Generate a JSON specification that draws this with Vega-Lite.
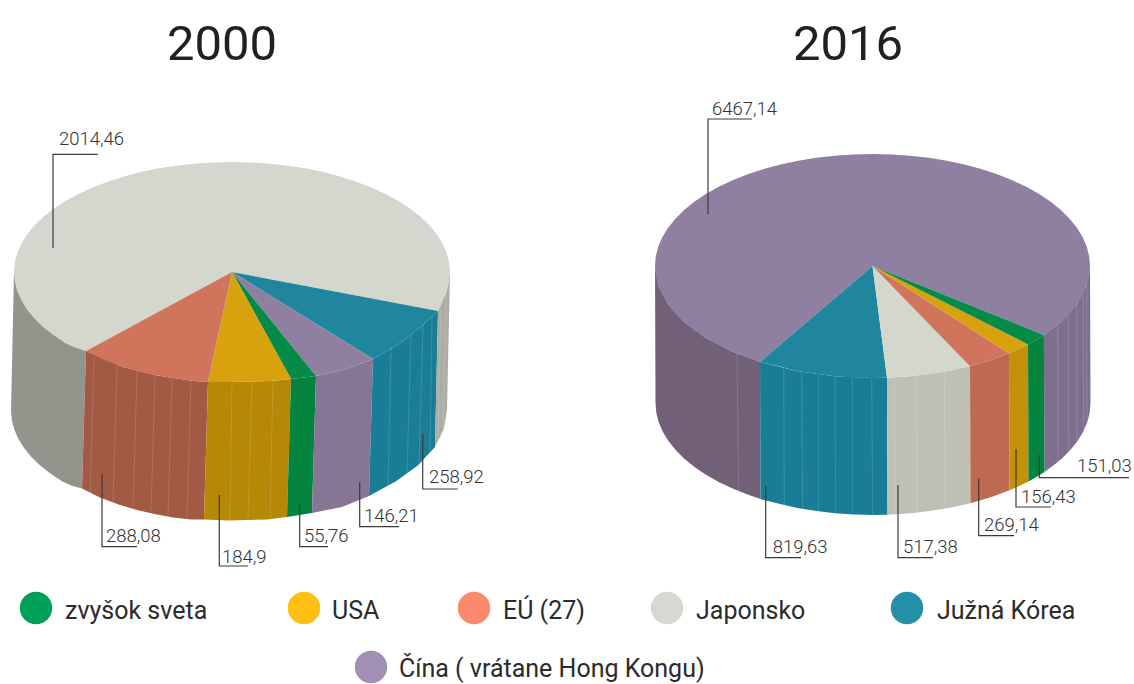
{"$schema":"https://vega.github.io/schema/vega-lite/v6.json","width":1134,"height":684,"autosize":{"type":"none"},"padding":0,"background":"#ffffff","config":{"view":{"stroke":null}},
"encoding":{"x":{"field":"x","type":"quantitative","axis":null,"scale":{"domain":[0,1134],"nice":false,"zero":false}},"y":{"field":"y","type":"quantitative","axis":null,"scale":{"domain":[684,0],"nice":false,"zero":false}}},
"layer":[
{"data":{"values":[
{"p":"a1","part":"Japonsko bok tmavý","i":0,"x":86,"y":351},{"p":"a1","part":"Japonsko bok tmavý","i":1,"x":65,"y":342.7},{"p":"a1","part":"Japonsko bok tmavý","i":2,"x":43.2,"y":327},{"p":"a1","part":"Japonsko bok tmavý","i":3,"x":27.1,"y":309.6},{"p":"a1","part":"Japonsko bok tmavý","i":4,"x":17.3,"y":291.1},{"p":"a1","part":"Japonsko bok tmavý","i":5,"x":14,"y":272},{"p":"a1","part":"Japonsko bok tmavý","i":6,"x":11,"y":410.5},{"p":"a1","part":"Japonsko bok tmavý","i":6.5,"x":11.8,"y":420},{"p":"a1","part":"Japonsko bok tmavý","i":7,"x":14.3,"y":429.6},{"p":"a1","part":"Japonsko bok tmavý","i":7.5,"x":18.4,"y":439},{"p":"a1","part":"Japonsko bok tmavý","i":8,"x":24.1,"y":448.1},{"p":"a1","part":"Japonsko bok tmavý","i":8.5,"x":31.4,"y":457},{"p":"a1","part":"Japonsko bok tmavý","i":9,"x":40.2,"y":465.5},{"p":"a1","part":"Japonsko bok tmavý","i":9.5,"x":50.4,"y":473.6},{"p":"a1","part":"Japonsko bok tmavý","i":10,"x":62,"y":481.2},{"p":"a1","part":"Japonsko bok tmavý","i":10.5,"x":71,"y":485.5},{"p":"a1","part":"Japonsko bok tmavý","i":11,"x":82,"y":488.5},
{"p":"a2","part":"EÚ bok 2000","i":0,"x":86,"y":351},{"p":"a2","part":"EÚ bok 2000","i":1,"x":123,"y":367},{"p":"a2","part":"EÚ bok 2000","i":2,"x":157.4,"y":375.4},{"p":"a2","part":"EÚ bok 2000","i":3,"x":194,"y":381},{"p":"a2","part":"EÚ bok 2000","i":4,"x":208,"y":382},{"p":"a2","part":"EÚ bok 2000","i":5,"x":204,"y":519.5},{"p":"a2","part":"EÚ bok 2000","i":6,"x":191,"y":519.5},{"p":"a2","part":"EÚ bok 2000","i":6.5,"x":173,"y":517.4},{"p":"a2","part":"EÚ bok 2000","i":7,"x":154.4,"y":514},{"p":"a2","part":"EÚ bok 2000","i":7.5,"x":137,"y":510},{"p":"a2","part":"EÚ bok 2000","i":8,"x":120,"y":505},{"p":"a2","part":"EÚ bok 2000","i":8.5,"x":100,"y":497.5},{"p":"a2","part":"EÚ bok 2000","i":9,"x":82,"y":488.5},
{"p":"a3","part":"USA bok 2000","i":0,"x":208,"y":382},{"p":"a3","part":"USA bok 2000","i":1,"x":232,"y":382},{"p":"a3","part":"USA bok 2000","i":2,"x":270,"y":381},{"p":"a3","part":"USA bok 2000","i":3,"x":291,"y":379},{"p":"a3","part":"USA bok 2000","i":4,"x":287,"y":517},{"p":"a3","part":"USA bok 2000","i":5,"x":267,"y":519.5},{"p":"a3","part":"USA bok 2000","i":6,"x":229,"y":520.5},{"p":"a3","part":"USA bok 2000","i":7,"x":204,"y":519.5},
{"p":"a4","part":"zvyšok bok","i":0,"x":291,"y":379},{"p":"a4","part":"zvyšok bok","i":1,"x":316,"y":376},{"p":"a4","part":"zvyšok bok","i":2,"x":312,"y":513},{"p":"a4","part":"zvyšok bok","i":3,"x":287,"y":517},
{"p":"a5","part":"Čína bok 2000","i":0,"x":316,"y":376},{"p":"a5","part":"Čína bok 2000","i":1,"x":345,"y":369.5},{"p":"a5","part":"Čína bok 2000","i":2,"x":373,"y":359},{"p":"a5","part":"Čína bok 2000","i":3,"x":369,"y":496},{"p":"a5","part":"Čína bok 2000","i":4,"x":342,"y":507},{"p":"a5","part":"Čína bok 2000","i":5,"x":312,"y":513},
{"p":"a6","part":"Kórea bok","i":0,"x":373,"y":359},{"p":"a6","part":"Kórea bok","i":1,"x":399,"y":344},{"p":"a6","part":"Kórea bok","i":2,"x":420.8,"y":327},{"p":"a6","part":"Kórea bok","i":3,"x":438,"y":311},{"p":"a6","part":"Kórea bok","i":4,"x":435,"y":447},{"p":"a6","part":"Kórea bok","i":5,"x":417.8,"y":465.5},{"p":"a6","part":"Kórea bok","i":6,"x":396,"y":481.2},{"p":"a6","part":"Kórea bok","i":7,"x":369,"y":496},
{"p":"a7","part":"Japonsko bok svetlý","i":0,"x":438,"y":311},{"p":"a7","part":"Japonsko bok svetlý","i":1,"x":446.7,"y":291.1},{"p":"a7","part":"Japonsko bok svetlý","i":2,"x":450,"y":272},{"p":"a7","part":"Japonsko bok svetlý","i":3,"x":447,"y":410.5},{"p":"a7","part":"Japonsko bok svetlý","i":4,"x":443.7,"y":429.6},{"p":"a7","part":"Japonsko bok svetlý","i":5,"x":435,"y":447},
{"p":"a8","part":"Japonsko vrch","i":0,"x":232,"y":272},{"p":"a8","part":"Japonsko vrch","i":1,"x":438,"y":311},{"p":"a8","part":"Japonsko vrch","i":1.5,"x":442.6,"y":300.5},{"p":"a8","part":"Japonsko vrch","i":2,"x":446.7,"y":291.1},{"p":"a8","part":"Japonsko vrch","i":2.5,"x":449.2,"y":281.6},{"p":"a8","part":"Japonsko vrch","i":3,"x":450,"y":272},{"p":"a8","part":"Japonsko vrch","i":3.5,"x":449.2,"y":262.4},{"p":"a8","part":"Japonsko vrch","i":4,"x":446.7,"y":252.9},{"p":"a8","part":"Japonsko vrch","i":4.5,"x":442.6,"y":243.5},{"p":"a8","part":"Japonsko vrch","i":5,"x":436.9,"y":234.4},{"p":"a8","part":"Japonsko vrch","i":5.5,"x":429.6,"y":225.5},{"p":"a8","part":"Japonsko vrch","i":6,"x":420.8,"y":217},{"p":"a8","part":"Japonsko vrch","i":6.5,"x":410.6,"y":208.9},{"p":"a8","part":"Japonsko vrch","i":7,"x":399,"y":201.3},{"p":"a8","part":"Japonsko vrch","i":7.5,"x":386.1,"y":194.2},{"p":"a8","part":"Japonsko vrch","i":8,"x":372.1,"y":187.7},{"p":"a8","part":"Japonsko vrch","i":8.5,"x":357,"y":181.9},{"p":"a8","part":"Japonsko vrch","i":9,"x":341,"y":176.7},{"p":"a8","part":"Japonsko vrch","i":9.5,"x":324.1,"y":172.3},{"p":"a8","part":"Japonsko vrch","i":10,"x":306.6,"y":168.6},{"p":"a8","part":"Japonsko vrch","i":10.5,"x":288.4,"y":165.7},{"p":"a8","part":"Japonsko vrch","i":11,"x":269.9,"y":163.7},{"p":"a8","part":"Japonsko vrch","i":11.5,"x":251,"y":162.4},{"p":"a8","part":"Japonsko vrch","i":12,"x":232,"y":162},{"p":"a8","part":"Japonsko vrch","i":12.5,"x":213,"y":162.4},{"p":"a8","part":"Japonsko vrch","i":13,"x":194.1,"y":163.7},{"p":"a8","part":"Japonsko vrch","i":13.5,"x":175.6,"y":165.7},{"p":"a8","part":"Japonsko vrch","i":14,"x":157.4,"y":168.6},{"p":"a8","part":"Japonsko vrch","i":14.5,"x":139.9,"y":172.3},{"p":"a8","part":"Japonsko vrch","i":15,"x":123,"y":176.7},{"p":"a8","part":"Japonsko vrch","i":15.5,"x":107,"y":181.9},{"p":"a8","part":"Japonsko vrch","i":16,"x":91.9,"y":187.7},{"p":"a8","part":"Japonsko vrch","i":16.5,"x":77.9,"y":194.2},{"p":"a8","part":"Japonsko vrch","i":17,"x":65,"y":201.3},{"p":"a8","part":"Japonsko vrch","i":17.5,"x":53.4,"y":208.9},{"p":"a8","part":"Japonsko vrch","i":18,"x":43.2,"y":217},{"p":"a8","part":"Japonsko vrch","i":18.5,"x":34.4,"y":225.5},{"p":"a8","part":"Japonsko vrch","i":19,"x":27.1,"y":234.4},{"p":"a8","part":"Japonsko vrch","i":19.5,"x":21.4,"y":243.5},{"p":"a8","part":"Japonsko vrch","i":20,"x":17.3,"y":252.9},{"p":"a8","part":"Japonsko vrch","i":20.5,"x":14.8,"y":262.4},{"p":"a8","part":"Japonsko vrch","i":21,"x":14,"y":272},{"p":"a8","part":"Japonsko vrch","i":21.5,"x":14.8,"y":281.6},{"p":"a8","part":"Japonsko vrch","i":22,"x":17.3,"y":291.1},{"p":"a8","part":"Japonsko vrch","i":22.5,"x":21.4,"y":300.5},{"p":"a8","part":"Japonsko vrch","i":23,"x":27.1,"y":309.6},{"p":"a8","part":"Japonsko vrch","i":23.5,"x":34.4,"y":318.5},{"p":"a8","part":"Japonsko vrch","i":24,"x":43.2,"y":327},{"p":"a8","part":"Japonsko vrch","i":24.5,"x":53.4,"y":335.1},{"p":"a8","part":"Japonsko vrch","i":25,"x":65,"y":342.7},{"p":"a8","part":"Japonsko vrch","i":25.5,"x":74,"y":347.2},{"p":"a8","part":"Japonsko vrch","i":26,"x":86,"y":351},
{"p":"a9","part":"Kórea vrch","i":0,"x":232,"y":272},{"p":"a9","part":"Kórea vrch","i":1,"x":438,"y":311},{"p":"a9","part":"Kórea vrch","i":2,"x":420.8,"y":327},{"p":"a9","part":"Kórea vrch","i":3,"x":399,"y":344},{"p":"a9","part":"Kórea vrch","i":4,"x":373,"y":359},
{"p":"a10","part":"Čína vrch","i":0,"x":232,"y":272},{"p":"a10","part":"Čína vrch","i":1,"x":373,"y":359},{"p":"a10","part":"Čína vrch","i":2,"x":345,"y":369.5},{"p":"a10","part":"Čína vrch","i":3,"x":316,"y":376},
{"p":"a11","part":"zvyšok vrch","i":0,"x":232,"y":272},{"p":"a11","part":"zvyšok vrch","i":1,"x":316,"y":376},{"p":"a11","part":"zvyšok vrch","i":2,"x":291,"y":379},
{"p":"a12","part":"USA vrch","i":0,"x":232,"y":272},{"p":"a12","part":"USA vrch","i":1,"x":291,"y":379},{"p":"a12","part":"USA vrch","i":2,"x":270,"y":381},{"p":"a12","part":"USA vrch","i":3,"x":232,"y":382},{"p":"a12","part":"USA vrch","i":4,"x":208,"y":382},
{"p":"a13","part":"EÚ vrch","i":0,"x":232,"y":272},{"p":"a13","part":"EÚ vrch","i":1,"x":208,"y":382},{"p":"a13","part":"EÚ vrch","i":2,"x":194,"y":381},{"p":"a13","part":"EÚ vrch","i":2.5,"x":175.5,"y":378.6},{"p":"a13","part":"EÚ vrch","i":3,"x":157.4,"y":375.4},{"p":"a13","part":"EÚ vrch","i":3.5,"x":140,"y":371.8},{"p":"a13","part":"EÚ vrch","i":4,"x":123,"y":367},{"p":"a13","part":"EÚ vrch","i":4.5,"x":104,"y":359.8},{"p":"a13","part":"EÚ vrch","i":5,"x":86,"y":351},
{"p":"b1","part":"Čína bok tmavý","i":0,"x":760,"y":362},{"p":"b1","part":"Čína bok tmavý","i":1,"x":732.7,"y":351.8},{"p":"b1","part":"Čína bok tmavý","i":2,"x":705.9,"y":338},{"p":"b1","part":"Čína bok tmavý","i":3,"x":684.1,"y":322},{"p":"b1","part":"Čína bok tmavý","i":4,"x":668.1,"y":304.3},{"p":"b1","part":"Čína bok tmavý","i":5,"x":658.3,"y":285.4},{"p":"b1","part":"Čína bok tmavý","i":6,"x":655,"y":266},{"p":"b1","part":"Čína bok tmavý","i":7,"x":655.5,"y":403},{"p":"b1","part":"Čína bok tmavý","i":7.5,"x":656.3,"y":412.8},{"p":"b1","part":"Čína bok tmavý","i":8,"x":658.8,"y":422.4},{"p":"b1","part":"Čína bok tmavý","i":8.5,"x":662.9,"y":432},{"p":"b1","part":"Čína bok tmavý","i":9,"x":668.6,"y":441.3},{"p":"b1","part":"Čína bok tmavý","i":9.5,"x":675.9,"y":450.3},{"p":"b1","part":"Čína bok tmavý","i":10,"x":684.6,"y":459},{"p":"b1","part":"Čína bok tmavý","i":10.5,"x":694.8,"y":467.2},{"p":"b1","part":"Čína bok tmavý","i":11,"x":706.4,"y":475},{"p":"b1","part":"Čína bok tmavý","i":11.5,"x":719.2,"y":482.2},{"p":"b1","part":"Čína bok tmavý","i":12,"x":733.2,"y":488.8},{"p":"b1","part":"Čína bok tmavý","i":12.5,"x":748.2,"y":494.7},{"p":"b1","part":"Čína bok tmavý","i":13,"x":760.5,"y":499},
{"p":"b2","part":"Čína bok svetlý","i":0,"x":1090,"y":266},{"p":"b2","part":"Čína bok svetlý","i":1,"x":1086.7,"y":285.4},{"p":"b2","part":"Čína bok svetlý","i":2,"x":1076.9,"y":304.3},{"p":"b2","part":"Čína bok svetlý","i":3,"x":1060.9,"y":322},{"p":"b2","part":"Čína bok svetlý","i":4,"x":1043.9,"y":335},{"p":"b2","part":"Čína bok svetlý","i":5,"x":1044.4,"y":472},{"p":"b2","part":"Čína bok svetlý","i":5.5,"x":1053.3,"y":465.6},{"p":"b2","part":"Čína bok svetlý","i":6,"x":1061.4,"y":459},{"p":"b2","part":"Čína bok svetlý","i":6.5,"x":1070.1,"y":450.3},{"p":"b2","part":"Čína bok svetlý","i":7,"x":1077.4,"y":441.3},{"p":"b2","part":"Čína bok svetlý","i":7.5,"x":1083.1,"y":432},{"p":"b2","part":"Čína bok svetlý","i":8,"x":1087.2,"y":422.4},{"p":"b2","part":"Čína bok svetlý","i":8.5,"x":1089.7,"y":412.8},{"p":"b2","part":"Čína bok svetlý","i":9,"x":1090.5,"y":403},
{"p":"b3","part":"Kórea bok","i":0,"x":760,"y":362},{"p":"b3","part":"Kórea bok","i":1,"x":798.1,"y":371.2},{"p":"b3","part":"Kórea bok","i":2,"x":834.7,"y":376.3},{"p":"b3","part":"Kórea bok","i":3,"x":872.5,"y":378},{"p":"b3","part":"Kórea bok","i":4,"x":887,"y":377.8},{"p":"b3","part":"Kórea bok","i":5,"x":887.5,"y":514.8},{"p":"b3","part":"Kórea bok","i":6,"x":873,"y":515},{"p":"b3","part":"Kórea bok","i":6.5,"x":854,"y":514.6},{"p":"b3","part":"Kórea bok","i":7,"x":835.2,"y":513.3},{"p":"b3","part":"Kórea bok","i":7.5,"x":816.7,"y":511},{"p":"b3","part":"Kórea bok","i":8,"x":798.6,"y":508.2},{"p":"b3","part":"Kórea bok","i":8.5,"x":780,"y":504},{"p":"b3","part":"Kórea bok","i":9,"x":760.5,"y":499},
{"p":"b4","part":"Japonsko bok 2016","i":0,"x":887,"y":377.8},{"p":"b4","part":"Japonsko bok 2016","i":1,"x":910.3,"y":376.3},{"p":"b4","part":"Japonsko bok 2016","i":2,"x":946.9,"y":371.2},{"p":"b4","part":"Japonsko bok 2016","i":3,"x":970,"y":366.2},{"p":"b4","part":"Japonsko bok 2016","i":4,"x":970.5,"y":503.2},{"p":"b4","part":"Japonsko bok 2016","i":5,"x":947.4,"y":508.2},{"p":"b4","part":"Japonsko bok 2016","i":5.5,"x":929.3,"y":511},{"p":"b4","part":"Japonsko bok 2016","i":6,"x":910.8,"y":513.3},{"p":"b4","part":"Japonsko bok 2016","i":7,"x":887.5,"y":514.8},
{"p":"b5","part":"EÚ bok 2016","i":0,"x":970,"y":366.2},{"p":"b5","part":"EÚ bok 2016","i":1,"x":991,"y":360},{"p":"b5","part":"EÚ bok 2016","i":2,"x":1009,"y":353.2},{"p":"b5","part":"EÚ bok 2016","i":3,"x":1009.5,"y":490.2},{"p":"b5","part":"EÚ bok 2016","i":4,"x":991.5,"y":497},{"p":"b5","part":"EÚ bok 2016","i":5,"x":970.5,"y":503.2},
{"p":"b6","part":"USA bok 2016","i":0,"x":1009,"y":353.2},{"p":"b6","part":"USA bok 2016","i":1,"x":1018,"y":349.2},{"p":"b6","part":"USA bok 2016","i":2,"x":1028,"y":344.4},{"p":"b6","part":"USA bok 2016","i":3,"x":1028.5,"y":481.4},{"p":"b6","part":"USA bok 2016","i":4,"x":1018.5,"y":486.2},{"p":"b6","part":"USA bok 2016","i":5,"x":1009.5,"y":490.2},
{"p":"b7","part":"zvyšok bok","i":0,"x":1028,"y":344.4},{"p":"b7","part":"zvyšok bok","i":1,"x":1036.7,"y":339.5},{"p":"b7","part":"zvyšok bok","i":2,"x":1043.9,"y":335},{"p":"b7","part":"zvyšok bok","i":3,"x":1044.4,"y":472},{"p":"b7","part":"zvyšok bok","i":4,"x":1037.2,"y":476.5},{"p":"b7","part":"zvyšok bok","i":5,"x":1028.5,"y":481.4},
{"p":"b8","part":"Čína vrch","i":0,"x":872.5,"y":266},{"p":"b8","part":"Čína vrch","i":1,"x":760,"y":362},{"p":"b8","part":"Čína vrch","i":1.5,"x":747.7,"y":357.7},{"p":"b8","part":"Čína vrch","i":2,"x":732.7,"y":351.8},{"p":"b8","part":"Čína vrch","i":2.5,"x":718.7,"y":345.2},{"p":"b8","part":"Čína vrch","i":3,"x":705.9,"y":338},{"p":"b8","part":"Čína vrch","i":3.5,"x":694.3,"y":330.2},{"p":"b8","part":"Čína vrch","i":4,"x":684.1,"y":322},{"p":"b8","part":"Čína vrch","i":4.5,"x":675.4,"y":313.3},{"p":"b8","part":"Čína vrch","i":5,"x":668.1,"y":304.3},{"p":"b8","part":"Čína vrch","i":5.5,"x":662.4,"y":295},{"p":"b8","part":"Čína vrch","i":6,"x":658.3,"y":285.4},{"p":"b8","part":"Čína vrch","i":6.5,"x":655.8,"y":275.8},{"p":"b8","part":"Čína vrch","i":7,"x":655,"y":266},{"p":"b8","part":"Čína vrch","i":7.5,"x":655.8,"y":256.2},{"p":"b8","part":"Čína vrch","i":8,"x":658.3,"y":246.6},{"p":"b8","part":"Čína vrch","i":8.5,"x":662.4,"y":237},{"p":"b8","part":"Čína vrch","i":9,"x":668.1,"y":227.7},{"p":"b8","part":"Čína vrch","i":9.5,"x":675.4,"y":218.7},{"p":"b8","part":"Čína vrch","i":10,"x":684.1,"y":210},{"p":"b8","part":"Čína vrch","i":10.5,"x":694.3,"y":201.8},{"p":"b8","part":"Čína vrch","i":11,"x":705.9,"y":194},{"p":"b8","part":"Čína vrch","i":11.5,"x":718.7,"y":186.8},{"p":"b8","part":"Čína vrch","i":12,"x":732.7,"y":180.2},{"p":"b8","part":"Čína vrch","i":12.5,"x":747.7,"y":174.3},{"p":"b8","part":"Čína vrch","i":13,"x":763.8,"y":169},{"p":"b8","part":"Čína vrch","i":13.5,"x":780.6,"y":164.5},{"p":"b8","part":"Čína vrch","i":14,"x":798.1,"y":160.8},{"p":"b8","part":"Čína vrch","i":14.5,"x":816.2,"y":157.8},{"p":"b8","part":"Čína vrch","i":15,"x":834.7,"y":155.7},{"p":"b8","part":"Čína vrch","i":15.5,"x":853.5,"y":154.4},{"p":"b8","part":"Čína vrch","i":16,"x":872.5,"y":154},{"p":"b8","part":"Čína vrch","i":16.5,"x":891.5,"y":154.4},{"p":"b8","part":"Čína vrch","i":17,"x":910.3,"y":155.7},{"p":"b8","part":"Čína vrch","i":17.5,"x":928.8,"y":157.8},{"p":"b8","part":"Čína vrch","i":18,"x":946.9,"y":160.8},{"p":"b8","part":"Čína vrch","i":18.5,"x":964.4,"y":164.5},{"p":"b8","part":"Čína vrch","i":19,"x":981.3,"y":169},{"p":"b8","part":"Čína vrch","i":19.5,"x":997.3,"y":174.3},{"p":"b8","part":"Čína vrch","i":20,"x":1012.3,"y":180.2},{"p":"b8","part":"Čína vrch","i":20.5,"x":1026.3,"y":186.8},{"p":"b8","part":"Čína vrch","i":21,"x":1039.1,"y":194},{"p":"b8","part":"Čína vrch","i":21.5,"x":1050.7,"y":201.8},{"p":"b8","part":"Čína vrch","i":22,"x":1060.9,"y":210},{"p":"b8","part":"Čína vrch","i":22.5,"x":1069.6,"y":218.7},{"p":"b8","part":"Čína vrch","i":23,"x":1076.9,"y":227.7},{"p":"b8","part":"Čína vrch","i":23.5,"x":1082.6,"y":237},{"p":"b8","part":"Čína vrch","i":24,"x":1086.7,"y":246.6},{"p":"b8","part":"Čína vrch","i":24.5,"x":1089.2,"y":256.2},{"p":"b8","part":"Čína vrch","i":25,"x":1090,"y":266},{"p":"b8","part":"Čína vrch","i":25.5,"x":1089.2,"y":275.8},{"p":"b8","part":"Čína vrch","i":26,"x":1086.7,"y":285.4},{"p":"b8","part":"Čína vrch","i":26.5,"x":1082.6,"y":295},{"p":"b8","part":"Čína vrch","i":27,"x":1076.9,"y":304.3},{"p":"b8","part":"Čína vrch","i":27.5,"x":1069.6,"y":313.3},{"p":"b8","part":"Čína vrch","i":28,"x":1060.9,"y":322},{"p":"b8","part":"Čína vrch","i":28.5,"x":1052.8,"y":328.6},{"p":"b8","part":"Čína vrch","i":29,"x":1043.9,"y":335},
{"p":"b9","part":"Kórea vrch","i":0,"x":872.5,"y":266},{"p":"b9","part":"Kórea vrch","i":1,"x":887,"y":377.8},{"p":"b9","part":"Kórea vrch","i":2,"x":872.5,"y":378},{"p":"b9","part":"Kórea vrch","i":2.5,"x":853.5,"y":377.6},{"p":"b9","part":"Kórea vrch","i":3,"x":834.7,"y":376.3},{"p":"b9","part":"Kórea vrch","i":3.5,"x":816.2,"y":373.8},{"p":"b9","part":"Kórea vrch","i":4,"x":798.1,"y":371.2},{"p":"b9","part":"Kórea vrch","i":4.5,"x":780.6,"y":366.7},{"p":"b9","part":"Kórea vrch","i":5,"x":760,"y":362},
{"p":"b10","part":"Japonsko vrch","i":0,"x":872.5,"y":266},{"p":"b10","part":"Japonsko vrch","i":1,"x":970,"y":366.2},{"p":"b10","part":"Japonsko vrch","i":2,"x":946.9,"y":371.2},{"p":"b10","part":"Japonsko vrch","i":2.5,"x":928.8,"y":374.2},{"p":"b10","part":"Japonsko vrch","i":3,"x":910.3,"y":376.3},{"p":"b10","part":"Japonsko vrch","i":4,"x":887,"y":377.8},
{"p":"b11","part":"EÚ vrch","i":0,"x":872.5,"y":266},{"p":"b11","part":"EÚ vrch","i":1,"x":1009,"y":353.2},{"p":"b11","part":"EÚ vrch","i":2,"x":991,"y":360},{"p":"b11","part":"EÚ vrch","i":3,"x":970,"y":366.2},
{"p":"b12","part":"USA vrch","i":0,"x":872.5,"y":266},{"p":"b12","part":"USA vrch","i":1,"x":1028,"y":344.4},{"p":"b12","part":"USA vrch","i":2,"x":1018,"y":349.2},{"p":"b12","part":"USA vrch","i":3,"x":1009,"y":353.2},
{"p":"b13","part":"zvyšok vrch","i":0,"x":872.5,"y":266},{"p":"b13","part":"zvyšok vrch","i":1,"x":1043.9,"y":335},{"p":"b13","part":"zvyšok vrch","i":2,"x":1036.7,"y":339.5},{"p":"b13","part":"zvyšok vrch","i":3,"x":1028,"y":344.4}
]},
"mark":{"type":"line","interpolate":"linear-closed","strokeWidth":0},
"encoding":{"detail":{"field":"p"},"order":{"field":"i","type":"quantitative"},"fill":{"field":"part","type":"nominal","legend":null,"scale":{"domain":["Japonsko vrch","Japonsko bok tmavý","Japonsko bok svetlý","Japonsko bok 2016","EÚ vrch","EÚ bok 2000","EÚ bok 2016","USA vrch","USA bok 2000","USA bok 2016","zvyšok vrch","zvyšok bok","Čína vrch","Čína bok 2000","Čína bok tmavý","Čína bok svetlý","Kórea vrch","Kórea bok"],"range":["#d4d7cd","#93958c","#acaea5","#bec0b6","#d0755c","#a35a45","#bd6a51","#d8a20e","#b58806","#c29108","#058b47","#05843f","#8f7fa0","#877596","#726078","#7f6f8f","#1f869d","#1a7d96"]}}}},
{"data":{"values":[
{"x":94,"y":357,"x2":90,"y2":496},{"x":117,"y":365.5,"x2":113,"y2":504},{"x":137,"y":371,"x2":133,"y2":510},{"x":155,"y":375,"x2":151,"y2":514},{"x":172,"y":378,"x2":168,"y2":517},{"x":191,"y":380,"x2":187,"y2":519},
{"x":232,"y":382,"x2":230,"y2":520},{"x":252,"y":381,"x2":248,"y2":520},{"x":273,"y":380,"x2":270,"y2":518},
{"x":391,"y":347,"x2":388,"y2":486},{"x":411,"y":335,"x2":407,"y2":474},{"x":423,"y":325,"x2":419,"y2":464},{"x":432,"y":316,"x2":430,"y2":455},{"x":441,"y":304,"x2":438,"y2":440},{"x":446,"y":292,"x2":443,"y2":430},
{"x":737,"y":353.6,"x2":738.7,"y2":490.6},{"x":783.7,"y":368.3,"x2":784.3,"y2":505.3},{"x":801.7,"y":371.9,"x2":802.7,"y2":508.9},{"x":818.3,"y":374.4,"x2":818.3,"y2":511.4},{"x":835,"y":376.3,"x2":835.7,"y2":513.3},{"x":852.3,"y":377.5,"x2":852.3,"y2":514.5},{"x":871.7,"y":378,"x2":872.7,"y2":515},
{"x":894.7,"y":377.4,"x2":895,"y2":514.4},{"x":916.7,"y":375.7,"x2":917.3,"y2":512.7},{"x":944.3,"y":371.7,"x2":945,"y2":508.7},
{"x":1057.7,"y":324.7,"x2":1058,"y2":461.7},{"x":1068.3,"y":314.7,"x2":1068.7,"y2":451.7},{"x":1076.7,"y":304.5,"x2":1077,"y2":441.5},{"x":1083.3,"y":293.6,"x2":1083.7,"y2":430.6},{"x":1086.7,"y":285.5,"x2":1087,"y2":422.5}
]},
"mark":{"type":"rule","stroke":"#ffffff","strokeOpacity":0.18,"strokeWidth":0.8},
"encoding":{"x2":{"field":"x2"},"y2":{"field":"y2"}}},
{"data":{"values":[
{"l":"2014,46","i":0,"x":97.7,"y":154.3},{"l":"2014,46","i":1,"x":53,"y":154.3},{"l":"2014,46","i":2,"x":53,"y":248},
{"l":"258,92","i":0,"x":457.7,"y":489},{"l":"258,92","i":1,"x":422.7,"y":489},{"l":"258,92","i":2,"x":422.7,"y":434},
{"l":"146,21","i":0,"x":399,"y":526.7},{"l":"146,21","i":1,"x":359.7,"y":526.7},{"l":"146,21","i":2,"x":359.7,"y":482},
{"l":"55,76","i":0,"x":328,"y":546.7},{"l":"55,76","i":1,"x":299.7,"y":546.7},{"l":"55,76","i":2,"x":299.7,"y":503},
{"l":"184,9","i":0,"x":248,"y":566},{"l":"184,9","i":1,"x":219.3,"y":566},{"l":"184,9","i":2,"x":219.3,"y":495},
{"l":"288,08","i":0,"x":137,"y":546.7},{"l":"288,08","i":1,"x":102,"y":546.7},{"l":"288,08","i":2,"x":102,"y":474},
{"l":"6467,14","i":0,"x":752,"y":119},{"l":"6467,14","i":1,"x":708,"y":119},{"l":"6467,14","i":2,"x":708,"y":214},
{"l":"151,03","i":0,"x":1129,"y":477.7},{"l":"151,03","i":1,"x":1039.3,"y":477.7},{"l":"151,03","i":2,"x":1039.3,"y":455},
{"l":"156,43","i":0,"x":1051,"y":507},{"l":"156,43","i":1,"x":1016,"y":507},{"l":"156,43","i":2,"x":1016,"y":449},
{"l":"269,14","i":0,"x":1014,"y":535.7},{"l":"269,14","i":1,"x":978.7,"y":535.7},{"l":"269,14","i":2,"x":978.7,"y":478},
{"l":"517,38","i":0,"x":933,"y":557.7},{"l":"517,38","i":1,"x":898,"y":557.7},{"l":"517,38","i":2,"x":898,"y":485},
{"l":"819,63","i":0,"x":801,"y":557.7},{"l":"819,63","i":1,"x":765.7,"y":557.7},{"l":"819,63","i":2,"x":765.7,"y":485.7}
]},
"mark":{"type":"line","stroke":"#3a3a3a","strokeWidth":1.2},
"encoding":{"detail":{"field":"l"},"order":{"field":"i","type":"quantitative"}}},
{"data":{"values":[
{"t":"2014,46","x":59,"y":145},{"t":"258,92","x":429,"y":482.7},{"t":"146,21","x":364,"y":521.7},{"t":"55,76","x":304,"y":541.7},{"t":"184,9","x":222,"y":562.7},{"t":"288,08","x":106,"y":542},
{"t":"6467,14","x":712,"y":115},{"t":"151,03","x":1077,"y":471.7},{"t":"156,43","x":1021,"y":502.7},{"t":"269,14","x":984,"y":531},{"t":"517,38","x":903,"y":552.7},{"t":"819,63","x":772.7,"y":552.7}
]},
"mark":{"type":"text","align":"left","baseline":"alphabetic","font":"Roboto","fontWeight":300,"fontSize":18.5,"fill":"#333333"},
"encoding":{"text":{"field":"t"}}},
{"data":{"values":[{"t":"2000","x":222,"y":60},{"t":"2016","x":848,"y":60}]},
"mark":{"type":"text","align":"center","baseline":"alphabetic","font":"Roboto","fontSize":49,"fill":"#231f20"},
"encoding":{"text":{"field":"t"}}},
{"data":{"values":[
{"s":"zvyšok sveta","x":36,"y":608},{"s":"USA","x":304,"y":608},{"s":"EÚ (27)","x":474,"y":608},{"s":"Japonsko","x":667,"y":608},{"s":"Južná Kórea","x":907,"y":608},{"s":"Čína ( vrátane Hong Kongu)","x":371,"y":667}
]},
"mark":{"type":"point","shape":"circle","filled":true,"opacity":1,"size":1050},
"encoding":{"color":{"field":"s","type":"nominal","legend":null,"scale":{"domain":["zvyšok sveta","USA","EÚ (27)","Japonsko","Južná Kórea","Čína ( vrátane Hong Kongu)"],"range":["#00a159","#ffc013","#f98a6d","#d9d7d1","#2390a8","#a190b3"]}}}},
{"data":{"values":[
{"s":"zvyšok sveta","x":65,"y":619},{"s":"USA","x":332,"y":619},{"s":"EÚ (27)","x":503,"y":619},{"s":"Japonsko","x":696,"y":619},{"s":"Južná Kórea","x":937,"y":619},{"s":"Čína ( vrátane Hong Kongu)","x":399,"y":677}
]},
"mark":{"type":"text","align":"left","baseline":"alphabetic","font":"Roboto","fontSize":25,"fill":"#2b2b2b"},
"encoding":{"text":{"field":"s"}}}
]}
